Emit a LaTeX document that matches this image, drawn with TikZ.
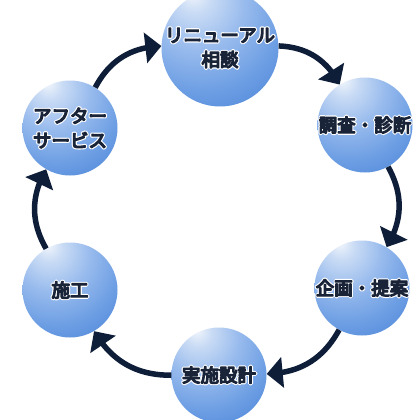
\documentclass[tikz,border=0pt]{standalone}
\usepackage{fontspec}
\newfontfamily\jp{Noto Sans CJK JP}
\usetikzlibrary{arrows.meta,bending}
\definecolor{txtc}{HTML}{1A2438}
\definecolor{arrc}{HTML}{0E1D38}
\definecolor{b0}{HTML}{F2F6FC}
\definecolor{b1}{HTML}{CADCF5}
\definecolor{b2}{HTML}{98BBED}
\definecolor{b3}{HTML}{6B9DE3}
\definecolor{b4}{HTML}{4E86D8}
\pgfdeclareradialshading{bubble}{\pgfpoint{-12bp}{24bp}}{color(0bp)=(b0); color(7bp)=(b1); color(20bp)=(b2); color(35bp)=(b3); color(48bp)=(b4); color(100bp)=(b4)}
\newcommand\bld[1]{%
  \rlap{\color{white}\special{pdf:code 2 Tr 3.6 w 1 J 1 j 1 1 1 RG}#1\special{pdf:code 0 Tr}}%
  \special{pdf:code 2 Tr 1.3 w 1 J 1 j 0.102 0.141 0.220 RG}#1\special{pdf:code 0 Tr}}
\tikzset{
  ball/.style={circle, minimum size=95pt, inner sep=0pt, shading=bubble, align=center,
    text=txtc, font=\jp\fontsize{18.5pt}{24.5pt}\selectfont},
  arr/.style={draw=arrc, line width=5.5pt, -{Triangle[width=30pt,length=16pt]}}
}
\begin{document}
\begin{tikzpicture}[x=1pt,y=-1pt]
\useasboundingbox[fill=white] (0,0) rectangle (420,420);
\node[ball] (top) at (220,48) {\bld{リニューアル}\\\bld{相談}};
\node[ball] (tr) at (365,125) {\bld{調査・診断}};
\node[ball] (br) at (362,288) {\bld{企画・提案}};
\node[ball] (bot) at (219,375) {\bld{実施設計}};
\node[ball] (bl) at (70,290) {\bld{施工}};
\node[ball] (tl) at (70,128) {\bld{アフター}\\\bld{サービス}};
\draw[arr] (top) to[bend left=30] (tr);
\draw[arr] (tr) to[bend left=30] (br);
\draw[arr] (br) to[bend left=30] (bot);
\draw[arr] (bot) to[bend left=30] (bl);
\draw[arr] (bl) to[bend left=30] (tl);
\draw[arr] (tl) to[bend left=30] (top);
\end{tikzpicture}
\end{document}
